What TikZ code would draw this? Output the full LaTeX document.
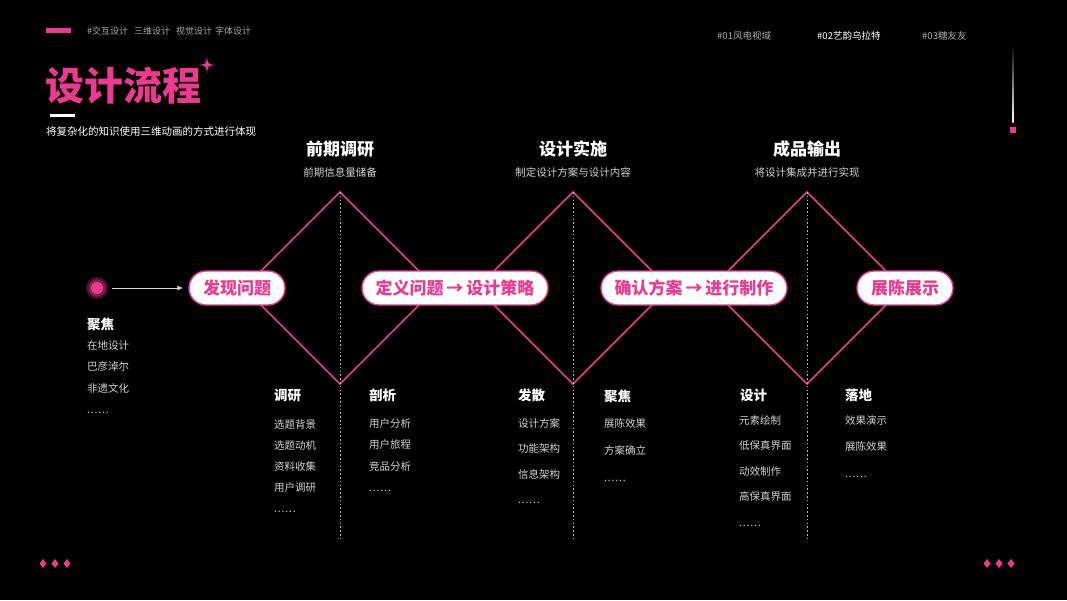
\documentclass[tikz,border=0pt]{standalone}
\usepackage{fontspec}
\setmainfont{Noto Sans CJK SC}
\newfontfamily\heavyfont{Noto Sans CJK SC Black}
\usetikzlibrary{arrows.meta,positioning}
\definecolor{rose}{HTML}{EC3A8E}
\definecolor{soft}{HTML}{D2D2D2}
\definecolor{dim}{HTML}{A8A8A8}
\tikzset{
  pill/.style={draw=rose, rounded corners=17pt, line width=1.4pt, fill=white, text=rose,
    font=\fontsize{17}{17}\selectfont\bfseries, minimum height=34pt, inner xsep=10pt},
  phase/.style={text=white, inner sep=0pt, font=\fontsize{17}{17}\selectfont\bfseries},
  note/.style={text=soft, inner sep=0pt, font=\fontsize{10.5}{12}\selectfont},
  head/.style={text=white, anchor=west, inner sep=0pt, font=\fontsize{13.5}{14}\selectfont\bfseries},
  items/.style={text=soft, anchor=north west, align=left, inner sep=0pt,
    font=\fontsize{10.5}{#1}\selectfont},
  tag/.style={anchor=west, inner sep=0pt, font=\fontsize{9.5}{10}\selectfont},
  wave/.style={draw=rose, line width=1.6pt},
  split/.style={white!72!black, line width=1pt, dash pattern=on 1.6pt off 2.2pt},
  flow/.style={-{Latex[length=6pt,width=5pt]}, line width=0.9pt},
}
\newcommand{\etcdots}{.\hspace{0.8pt}.\hspace{0.8pt}.\hspace{0.8pt}.\hspace{0.8pt}.\hspace{0.8pt}.}
\newcommand{\thento}{\hspace{3pt}→\hspace{3pt}}

\begin{document}
\begin{tikzpicture}[x=1pt, y=-1pt]
  \fill[black] (0,0) rectangle (1067,600);
  \useasboundingbox (0,0) rectangle (1067,600);

  % header
  \fill[rose] (46,28) rectangle (71,33);
  \node[tag, text=dim, font=\fontsize{9}{10}\selectfont] (tags) at (87,31)
    {\#交互设计\hspace{6pt}三维设计\hspace{6pt}视觉设计\hspace{3pt}字体设计};
  \node[anchor=west, inner sep=0pt, text=rose, font=\heavyfont\fontsize{39}{39}\selectfont] (title) at (45,86) {设计流程};
  \fill[rose] (207,56) .. controls (207.8,64.2) .. (216,65) .. controls (207.8,65.8) .. (207,74)
    .. controls (206.2,65.8) .. (198,65) .. controls (206.2,64.2) .. (207,56);
  \fill[white] (50,114) rectangle (75,117);
  \node[anchor=west, inner sep=0pt, text=white, font=\fontsize{10.5}{12}\selectfont] (sub) at (46,132)
    {将复杂化的知识使用三维动画的方式进行体现};
  \node[tag, text=dim] (w1) at (717,36) {\#01风电视域};
  \node[tag, text=white] (w2) at (817,36) {\#02艺韵乌拉特};
  \node[tag, text=dim] (w3) at (922,36) {\#03糖友友};
  \shade[top color=black, bottom color=white] (1012.3,45) rectangle (1013.7,122);
  \fill[rose] (1010,127) rectangle (1016,133);

  % diamonds and dividers
  \foreach \x/\i in {340/1,573/2,807/3} {
    \coordinate (top\i) at (\x,192);
    \coordinate (end\i) at (\x,540);
    \draw[wave] (\x-96,288) -- (top\i) -- (\x+96,288) -- (\x,384) -- cycle;
    \draw[split] (top\i) -- (end\i);
  }

  % phases
  \node[phase] (p1) at (340,149) {前期调研};
  \node[note, below=10pt of p1] (p1s) {前期信息量储备};
  \node[phase] (p2) at (573,149) {设计实施};
  \node[note, below=10pt of p2] (p2s) {制定设计方案与设计内容};
  \node[phase] (p3) at (807,149) {成品输出};
  \node[note, below=10pt of p3] (p3s) {将设计集成并进行实现};

  % steps
  \node[pill, minimum width=96pt] (n1) at (237,288) {发现问题};
  \node[pill, minimum width=186pt] (n2) at (455,288) {定义问题\thento 设计策略};
  \node[pill, minimum width=186pt] (n3) at (694,288) {确认方案\thento 进行制作};
  \node[pill, minimum width=96pt] (n4) at (905,288) {展陈展示};

  \fill[rose!30!black] (97,288) circle[radius=11pt];
  \fill[rose!55!black] (97,288) circle[radius=8.5pt];
  \node[circle, fill=rose, minimum size=12pt, inner sep=0pt] (dot) at (97,288) {};
  \draw[flow, white!85!black, shorten <=9pt, shorten >=5pt] (dot) -- (n1);

  % columns
  \node[head] (c0) at (87,324) {聚焦};
  \node[items=21.5pt] (l0) at (87,340) {在地设计\\巴彦淖尔\\非遗文化\\\etcdots};
  \node[head] (c1) at (274,395) {调研};
  \node[items=21pt] (l1) at (274,419) {选题背景\\选题动机\\资料收集\\用户调研\\\etcdots};
  \node[head] (c2) at (369,395) {剖析};
  \node[items=21.5pt] (l2) at (369,418) {用户分析\\用户旅程\\竞品分析\\\etcdots};
  \node[head] (c3) at (518,395) {发散};
  \node[items=25.5pt] (l3) at (518,418) {设计方案\\功能架构\\信息架构\\\etcdots};
  \node[head] (c4) at (604,396) {聚焦};
  \node[items=27pt] (l4) at (604,418) {展陈效果\\方案确立\\\etcdots};
  \node[head] (c5) at (740,395) {设计};
  \node[items=25.5pt] (l5) at (739,415) {元素绘制\\低保真界面\\动效制作\\高保真界面\\\etcdots};
  \node[head] (c6) at (845,395) {落地};
  \node[items=26.5pt] (l6) at (845,415) {效果演示\\展陈效果\\\etcdots};

  % corner marks
  \foreach \x in {43,55,67,987,999,1011}
    \fill[rose] (\x,559) -- (\x+3.5,563.5) -- (\x,568) -- (\x-3.5,563.5) -- cycle;
\end{tikzpicture}
\end{document}
